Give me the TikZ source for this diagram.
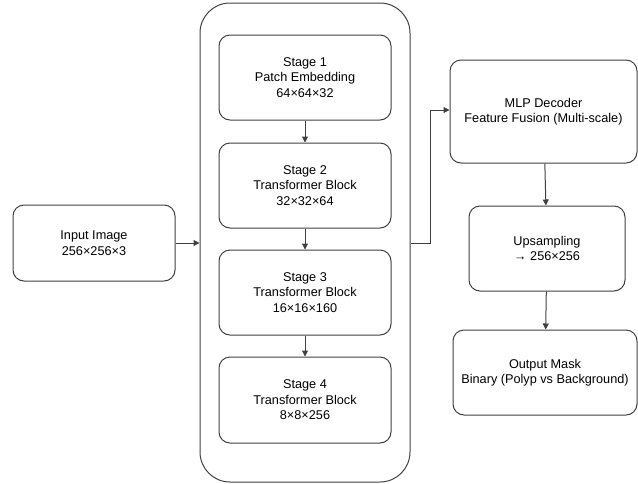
\documentclass[tikz,border=0pt]{standalone}
\usepackage{fontspec}
\setmainfont{Liberation Sans}
\usetikzlibrary{arrows.meta}
\begin{document}
\begin{tikzpicture}[x=1pt,y=-1pt,
  box/.style={draw=black!75,line width=1pt,rounded corners=11pt,align=center,
    font=\fontsize{12.7}{15.5}\selectfont,inner sep=0pt},
  flow/.style={draw=black!75,line width=1pt,-{Triangle[length=6pt,width=6pt]}}]
\useasboundingbox (0,0) rectangle (638,483);

\node[draw=black!75,line width=1pt,rounded corners=30pt,minimum width=210pt,minimum height=479pt] (enc) at (305,242.5) {};

\node[box,minimum width=162pt,minimum height=76pt] (input) at (94,243) {Input Image\\256×256×3};

\node[box,minimum width=172pt,minimum height=85pt] (s1) at (305,77.5) {Stage 1\\Patch Embedding\\64×64×32};
\node[box,minimum width=172pt,minimum height=85pt] (s2) at (305,185.5) {Stage 2\\Transformer Block\\32×32×64};
\node[box,minimum width=172pt,minimum height=85pt] (s3) at (305,292.5) {Stage 3\\Transformer Block\\16×16×160};
\node[box,minimum width=172pt,minimum height=86pt] (s4) at (305,400) {Stage 4\\Transformer Block\\8×8×256};

\node[box,minimum width=187pt,minimum height=103pt] (mlp) at (543.5,111.5) {MLP Decoder\\Feature Fusion (Multi-scale)};
\node[box,minimum width=156pt,minimum height=85pt] (up) at (547,248.5) {Upsampling\\→ 256×256};
\node[box,minimum width=184pt,minimum height=85pt] (out) at (545,372.5) {Output Mask\\Binary (Polyp vs Background)};

\draw[flow] (input) -- (input -| enc.west);
\draw[flow] (s1) -- (s2);
\draw[flow] (s2) -- (s3);
\draw[flow] (s3) -- (s4);
\draw[flow] (enc.east |- input) -- ++(20,0) |- (mlp.west |- 0,110);
\draw[flow] (mlp) -- (up);
\draw[flow] (up) -- (out);
\end{tikzpicture}
\end{document}
